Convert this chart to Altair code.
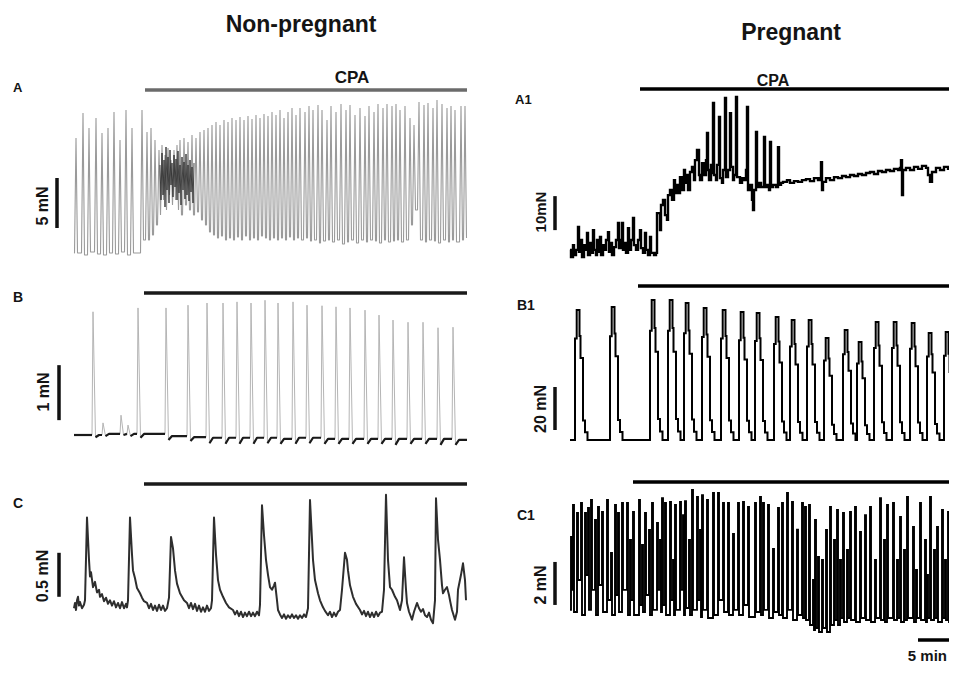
import altair as alt
import pandas as pd

FONT = "Liberation Sans"
W, H = 941, 658
M = 8  # page margin: reference pixel = canvas pixel + 8

# ---------------- data (time in min, force in mN) ----------------
# Panel A (non-pregnant): spike peaks and the trough level reached after each
a_t = [0.2, 0.9, 1.5, 2.2, 2.8, 3.4, 4.0, 4.6, 5.2, 5.8, 6.8,
       7.3, 7.7, 8.1, 8.5, 8.8, 9.1, 9.4, 9.7, 10.0, 10.3,
       10.6, 11.0, 11.4, 11.8, 12.2, 12.6, 13.0, 13.4, 13.8, 14.2,
       14.6, 15.0, 15.4, 15.8, 16.2, 16.6, 17.0, 17.4, 17.8, 18.2,
       18.6, 19.0, 19.4, 19.8, 20.2, 20.6, 21.0, 21.4, 21.8, 22.2,
       22.6, 23.1, 23.5, 23.9, 24.4, 24.8, 25.3, 25.7, 26.2, 26.7,
       27.2, 27.6, 28.1, 28.6, 29.1, 29.5, 30.0, 30.4, 30.9, 31.3,
       31.8, 32.2, 32.6, 33.1, 33.6, 34.0, 34.5, 35.0, 35.4, 35.9,
       36.3, 36.8, 37.3, 37.7, 38.1, 38.7, 39.1]
a_peak = [11.7, 14.2, 12.7, 13.7, 12.2, 12.7, 14.3, 11.5, 14.5, 12.7, 14.5,
          12.3, 12.7, 11.5, 10.5, 11.0, 10.0, 10.7, 9.5, 10.5, 11.0,
          11.5, 11.7, 11.3, 12.0, 11.7, 12.3, 12.5, 12.7, 13.0, 13.3,
          13.0, 13.5, 13.3, 13.7, 13.5, 13.8, 13.5, 13.9, 13.6, 14.0,
          13.7, 14.1, 13.9, 14.3, 14.0, 14.5, 13.7, 14.3, 14.7, 14.0,
          14.7, 14.3, 14.9, 14.5, 15.0, 14.5, 13.5, 14.9, 14.3, 15.1,
          14.5, 15.0, 14.0, 14.7, 13.9, 14.9, 14.3, 15.1, 14.7, 15.1,
          14.9, 15.1, 14.5, 14.9, 13.7, 13.0, 15.3, 15.0, 15.2, 14.7,
          15.5, 15.1, 14.7, 14.9, 14.5, 14.9, 14.9]
a_trough = [0.2, 0.0, 0.3, 0.1, 0.0, 0.2, 0.1, 0.3, 0.0, 0.2, 1.5,
            1.5, 2.0, 3.0, 4.0, 5.5, 4.5, 6.0, 5.0, 5.5, 4.5,
            4.0, 5.0, 4.5, 4.0, 4.3, 3.5, 3.0, 2.3, 2.0, 1.7,
            1.9, 1.5, 1.7, 1.5, 1.8, 1.5, 1.9, 1.5, 1.7, 1.5,
            1.9, 1.7, 1.5, 1.7, 1.5, 1.7, 1.5, 1.8, 1.5, 1.7,
            1.5, 1.7, 1.4, 1.5, 1.2, 1.4, 1.5, 1.3, 1.5, 1.1,
            1.3, 1.5, 1.2, 1.5, 1.3, 1.5, 1.4, 1.2, 1.5, 1.3,
            1.4, 1.5, 1.3, 1.5, 3.0, 4.5, 1.5, 1.3, 1.5, 1.4,
            1.2, 1.5, 1.3, 1.5, 1.3, 1.5, 1.7]
# dense dark burst just after CPA in panel A
a_dense_t = [8.6, 8.7, 8.8, 8.9, 9.0, 9.1, 9.2, 9.3, 9.4, 9.5, 9.6, 9.7,
             9.8, 9.9, 10.0, 10.1, 10.2, 10.3, 10.4, 10.5, 10.6, 10.7, 10.8,
             10.9, 11.0, 11.1, 11.2, 11.3, 11.4, 11.5, 11.6, 11.7, 11.8, 11.9, 12.0]
a_dense_f = [9.0, 5.5, 10.2, 6.0, 9.5, 4.8, 10.8, 6.5, 9.8, 5.2, 10.5, 7.0,
             9.2, 5.8, 10.0, 6.8, 9.6, 5.5, 10.4, 6.2, 9.0, 5.0, 9.8,
             6.5, 9.3, 5.6, 10.1, 6.0, 9.0, 5.4, 9.5, 6.3, 8.8, 5.2, 9.2]

# Panel B: spikes, baseline level before each spike and just after it
b_t = [1.9, 2.9, 4.7, 5.4, 6.4, 9.2, 11.4, 13.3, 14.9, 16.3, 17.7, 19.1, 20.4,
       21.9, 23.3, 24.8, 26.2, 27.6, 29.1, 30.5, 31.9, 33.4, 34.9, 36.4, 37.9]
b_peak = [2.24, 0.22, 0.36, 0.18, 2.31, 2.31, 2.36, 2.40, 2.40, 2.42, 2.40, 2.45, 2.40,
          2.42, 2.36, 2.35, 2.33, 2.31, 2.27, 2.18, 2.09, 2.05, 2.05, 1.95, 1.96]
b_pre = [0.0, 0.0, 0.02, 0.02, 0.02, 0.02, -0.02, -0.04, -0.05, -0.05, -0.05, -0.05, -0.05,
         -0.07, -0.05, -0.05, -0.07, -0.07, -0.07, -0.07, -0.07, -0.07, -0.07, -0.07, -0.07]
b_low = [-0.04, -0.02, 0.0, -0.02, -0.05, -0.09, -0.11, -0.15, -0.16, -0.16, -0.16, -0.15, -0.16,
         -0.16, -0.15, -0.16, -0.16, -0.16, -0.16, -0.16, -0.18, -0.16, -0.16, -0.18, -0.18]
b_end = -0.09

# Panel C: trace vertices
c_t = [0.0, 0.1, 0.2, 0.3, 0.4, 0.5, 0.6, 0.8, 1.0, 1.1,
       1.3, 1.5, 1.6, 1.7, 1.9, 2.1, 2.3, 2.5, 2.6, 2.8,
       3.0, 3.2, 3.4, 3.6, 3.8, 4.0, 4.2, 4.4, 4.6, 4.8,
       5.0, 5.2, 5.3, 5.4, 5.6, 5.8, 5.9, 6.1, 6.3, 6.6,
       6.8, 7.0, 7.3, 7.5, 7.7, 7.9, 8.1, 8.3, 8.5, 8.7,
       8.9, 9.1, 9.3, 9.5, 9.7, 9.9, 10.1, 10.3, 10.6, 10.8,
       11.0, 11.3, 11.5, 11.7, 11.9, 12.1, 12.3, 12.5, 12.7, 12.9,
       13.1, 13.3, 13.5, 13.7, 13.8, 14.0, 14.2, 14.4, 14.6, 14.9,
       15.2, 15.5, 15.9, 16.1, 16.3, 16.5, 16.7, 16.9, 17.1, 17.3,
       17.5, 17.7, 17.9, 18.1, 18.3, 18.5, 18.6, 18.8, 19.0, 19.2,
       19.4, 19.6, 19.8, 20.0, 20.1, 20.3, 20.4, 20.6, 20.8, 21.0,
       21.2, 21.4, 21.6, 21.8, 22.0, 22.2, 22.4, 22.6, 22.8, 23.0,
       23.2, 23.4, 23.6, 23.8, 23.9, 24.1, 24.4, 24.6, 24.9, 25.1,
       25.4, 25.6, 25.8, 26.0, 26.2, 26.4, 26.6, 26.8, 27.1, 27.3,
       27.4, 27.6, 27.9, 28.2, 28.6, 28.8, 29.0, 29.2, 29.4, 29.6,
       29.8, 30.0, 30.2, 30.4, 30.6, 30.8, 31.0, 31.2, 31.4, 31.6,
       31.8, 32.1, 32.3, 32.6, 32.8, 33.0, 33.2, 33.3, 33.5, 33.8,
       34.0, 34.3, 34.5, 34.7, 34.9, 35.1, 35.3, 35.5, 35.7, 35.9,
       36.1, 36.2, 36.4, 36.6, 36.8, 36.9, 37.1, 37.3, 37.5, 37.6,
       37.8, 38.1, 38.3, 38.4, 38.7, 38.9, 39.1, 39.2]
c_f = [0.02, 0.08, 0.00, 0.11, 0.15, 0.05, 0.09, 0.02, 0.06, 0.11,
       1.05, 0.57, 0.38, 0.43, 0.26, 0.32, 0.20, 0.23, 0.15, 0.18,
       0.10, 0.14, 0.07, 0.11, 0.05, 0.10, 0.03, 0.08, 0.02, 0.09,
       0.02, 0.07, 0.03, 0.11, 1.05, 0.63, 0.45, 0.36, 0.25, 0.19,
       0.14, 0.10, 0.08, 0.02, 0.07, 0.00, 0.05, -0.01, 0.06, 0.00,
       0.05, -0.01, 0.02, 0.14, 0.83, 0.70, 0.45, 0.30, 0.19, 0.15,
       0.11, 0.08, 0.02, 0.08, 0.01, 0.07, -0.01, 0.05, -0.02, 0.03,
       -0.02, 0.05, -0.01, 0.02, 0.11, 1.05, 0.63, 0.34, 0.23, 0.15,
       0.08, 0.03, 0.00, -0.05, -0.01, -0.07, -0.02, -0.08, -0.03, -0.07,
       -0.02, -0.07, -0.03, -0.07, -0.02, -0.06, 0.06, 1.19, 0.85, 0.57,
       0.40, 0.26, 0.23, 0.28, 0.31, 0.11, 0.00, -0.05, -0.09, -0.05,
       -0.10, -0.06, -0.09, -0.05, -0.09, -0.06, -0.10, -0.06, -0.09, -0.05,
       -0.08, 0.02, 1.25, 0.80, 0.57, 0.34, 0.19, 0.11, 0.03, -0.01,
       -0.06, -0.02, -0.08, -0.03, -0.07, -0.02, 0.00, 0.23, 0.65, 0.57,
       0.45, 0.28, 0.15, 0.07, 0.00, -0.05, -0.01, -0.07, -0.02, -0.08,
       -0.03, -0.08, -0.02, -0.07, -0.03, -0.02, 0.23, 1.31, 0.57, 0.26,
       0.23, 0.15, 0.11, 0.00, 0.11, 0.60, 0.23, 0.08, -0.02, -0.11,
       -0.02, 0.08, 0.02, -0.02, 0.01, -0.06, -0.08, -0.03, -0.11, -0.15,
       0.11, 1.27, 0.80, 0.57, 0.28, 0.19, 0.23, 0.26, 0.17, 0.11,
       0.00, -0.11, -0.02, 0.23, 0.40, 0.53, 0.34, 0.11]

# Panel A1 (pregnant): stepped trace vertices
a1_t = [0.0, 0.1, 0.3, 0.4, 0.6, 0.8, 0.9, 1.1, 1.2, 1.4, 1.6, 1.7, 1.8, 2.0, 2.1,
        2.3, 2.4, 2.6, 2.7, 2.8, 3.0, 3.1, 3.3, 3.5, 3.6, 3.8, 3.9, 4.1, 4.2, 4.4,
        4.6, 4.8, 4.9, 5.1, 5.2, 5.3, 5.5, 5.6, 5.8, 5.9, 6.1, 6.3, 6.4, 6.6, 6.8,
        7.0, 7.1, 7.3, 7.5, 7.6, 7.8, 8.0, 8.1, 8.4, 8.6,
        8.7, 9.0, 9.1, 9.3, 9.5, 9.7, 9.8, 10.0, 10.2, 10.4, 10.5, 10.7, 10.8, 11.0,
        11.2, 11.4, 11.5, 11.7, 11.8, 12.0, 12.2, 12.4, 12.5, 12.7, 12.9, 13.0, 13.2,
        13.4, 13.6, 13.7, 13.8, 13.9, 14.1, 14.2, 14.3, 14.4, 14.6, 14.7, 14.9, 15.0,
        15.2, 15.3, 15.5, 15.6, 15.8, 16.0, 16.1, 16.3, 16.4, 16.6, 16.7, 17.0, 17.2,
        17.4, 17.6, 17.7, 17.8, 18.0, 18.2, 18.3, 18.4, 18.6, 18.7, 18.9, 19.1, 19.4,
        19.5, 19.7, 19.9, 20.0, 20.1, 20.3, 20.6, 20.8, 20.9, 21.1,
        21.3, 21.7, 22.0, 22.4, 22.8, 23.2, 23.6, 24.0, 24.4, 24.8, 25.0, 25.1, 25.2,
        25.3, 25.6, 26.0, 26.4, 26.8, 27.2, 27.6, 28.0, 28.4, 28.8, 29.2, 29.6, 30.0,
        30.4, 30.8, 31.2, 31.6, 32.0, 32.4, 32.8, 33.0, 33.1, 33.2, 33.3, 33.6, 34.0,
        34.4, 34.8, 35.2, 35.6, 35.8, 36.0, 36.2, 36.6, 37.0, 37.4, 37.8, 38.2, 38.7]
a1_f = [2.4, 0.3, 3.8, 0.9, 2.4, 9.1, 1.8, 5.3, 0.3, 3.8, 2.4, 7.4, 0.9, 4.4, 1.5,
        8.2, 2.4, 0.9, 5.3, 1.8, 6.2, 0.9, 3.8, 2.4, 5.3, 7.6, 1.8, 4.4, 0.9, 3.2,
        5.3, 10.3, 2.9, 5.3, 10.3, 2.4, 4.4, 1.5, 8.8, 2.4, 5.3, 11.8, 3.8, 2.4, 5.3,
        8.2, 2.9, 1.5, 7.4, 2.4, 0.9, 6.2, 1.5, 0.9, 1.5,
        13.2, 8.2, 15.6, 17.1, 12.6, 11.2, 18.5, 20.0, 17.1, 22.9, 19.1, 21.5, 19.1, 23.8,
        20.0, 25.9, 22.1, 24.4, 20.0, 25.3, 26.8, 22.9, 28.8, 31.8, 24.4, 22.9, 27.9,
        24.4, 28.8, 36.8, 25.9, 22.9, 27.4, 25.0, 45.6, 24.4, 22.9, 27.4, 41.5, 23.5,
        22.1, 25.9, 47.1, 23.8, 25.9, 42.6, 26.8, 22.9, 24.4, 47.4, 23.8, 22.1, 23.5,
        22.9, 25.9, 44.4, 20.0, 21.5, 17.1, 14.1, 20.0, 37.1, 20.9, 22.1, 20.9, 35.6,
        20.9, 21.5, 20.0, 34.1, 20.9, 21.5, 20.9, 32.6, 21.5, 22.1,
        22.4, 22.9, 22.1, 22.6, 22.4, 22.9, 23.2, 22.6, 23.5, 22.9, 23.5, 28.2, 20.0,
        22.4, 23.5, 22.9, 23.8, 23.5, 24.1, 23.8, 24.4, 24.1, 24.7, 24.4, 25.0, 25.3,
        24.7, 25.6, 25.3, 25.9, 25.6, 26.2, 25.9, 26.5, 28.8, 18.5, 25.9, 26.5, 25.9,
        26.8, 26.2, 27.1, 26.5, 24.4, 22.4, 25.3, 26.5, 25.9, 26.8, 26.2, 27.1, 26.5]

# Panel B1: onset time and peak force of each phasic contraction
b1_t = [0.5, 4.0, 8.0, 9.8, 11.4, 13.2, 15.1, 16.9, 18.5, 20.4,
        22.0, 23.7, 25.4, 27.3, 28.7, 30.4, 32.2, 34.0, 35.7, 37.4]
b1_peak = [60.5, 61.9, 65.1, 65.1, 63.7, 61.4, 60.5, 59.5, 59.1, 57.2,
           55.8, 55.8, 47.4, 51.2, 45.6, 54.9, 54.9, 54.4, 49.8, 50.2]
# contraction waveform (min after onset, fraction of peak)
b1_shape_dt = [0.0, 0.17, 0.45, 0.55, 0.8, 1.0, 1.25]
b1_shape_fr = [0.78, 1.0, 0.8, 0.63, 0.15, 0.06, 0.0]

# Panel C1: spike times, peaks and trough after each
c1_t = [0.1, 0.3, 0.7, 1.1, 1.5, 1.8, 2.1, 2.5, 2.8, 3.2,
        3.7, 4.1, 4.5, 4.8, 5.2, 5.7, 6.0, 6.3, 6.9, 7.2,
        7.5, 7.9, 8.2, 8.7, 9.0, 9.2, 9.5, 10.0, 10.3, 10.5,
        11.0, 11.3, 11.5, 11.9, 12.2, 12.7, 13.0, 13.2, 13.7,
        14.3, 14.8, 15.3, 15.8, 16.3, 16.8, 17.3, 17.8, 18.5, 19.0,
        19.3, 19.8, 20.3, 20.8, 21.2, 21.7, 22.2, 22.7, 23.2, 23.5, 23.9,
        24.3, 24.5, 24.8, 25.2, 25.6, 26.0, 26.4, 26.7,
        27.0, 27.3, 27.7, 28.0, 28.5, 29.0, 29.5, 30.0, 30.5, 31.0,
        31.4, 31.7, 32.3, 32.7, 33.0, 33.4, 33.7, 34.3, 34.6, 35.0,
        35.5, 35.7, 36.0, 36.4, 36.7, 37.2, 37.5, 37.8, 38.2, 38.5]
c1_peak = [3.86, 5.35, 4.98, 5.44, 4.98, 5.21, 5.58, 4.65, 5.26, 5.02,
           5.58, 3.12, 5.35, 4.98, 5.44, 5.44, 3.72, 5.02, 5.58, 3.49,
           4.98, 4.19, 5.44, 4.51, 3.72, 5.67, 5.44, 5.49, 2.79, 5.35,
           5.49, 4.88, 5.53, 3.72, 6.05, 5.72, 4.19, 5.81, 5.58,
           5.91, 5.91, 5.44, 5.44, 4.00, 5.44, 5.49, 5.26, 5.44, 5.72,
           5.44, 5.35, 3.30, 5.21, 5.44, 5.91, 5.49, 4.20, 5.44, 5.26, 5.35,
           1.86, 4.65, 2.93, 2.79, 4.19, 5.26, 3.72, 5.12,
           2.79, 4.98, 3.26, 5.02, 5.26, 4.09, 4.88, 5.26, 2.79, 5.67,
           3.72, 5.35, 5.44, 2.79, 4.79, 3.26, 5.72, 4.33, 2.33, 5.44,
           3.72, 2.09, 5.72, 3.26, 4.33, 5.12, 2.79, 5.02, 3.26, 5.44]
c1_trough = [1.40, 0.37, 1.86, 0.23, 2.09, 0.47, 1.40, 0.23, 1.63, 0.37,
             0.93, 0.23, 1.16, 0.37, 1.40, 0.23, 0.93, 0.23, 0.70, 0.37,
             1.16, 0.23, 0.47, 1.40, 0.37, 0.70, 0.23, 0.93, 0.23, 0.47,
             1.40, 0.23, 0.56, 0.23, 0.47, 0.93, 0.14, 0.47, 0.09,
             0.23, 0.93, 0.37, 0.23, 0.47, 0.23, 0.70, 0.14, 0.37, 0.23,
             0.47, 0.09, 0.37, 0.23, 0.09, 0.47, 0.00, 0.23, 0.09, 0.00, -0.23,
             -0.47, -0.37, -0.56, -0.37, -0.56, -0.23, 0.00, -0.23,
             0.09, -0.09, 0.09, 0.00, -0.09, 0.09, 0.00, -0.09, 0.09, 0.00,
             -0.09, 0.09, 0.00, 0.09, -0.09, 0.00, 0.09, -0.09, 0.09, 0.00,
             -0.09, 0.09, 0.00, 0.09, -0.09, 0.09, 0.00, -0.09, 0.09, 0.00]

# CPA application (min) and scale bars (mN)
cpa_start = {"A": 7.1, "B": 7.0, "C": 7.0, "A1": 7.0, "B1": 6.8, "C1": 6.3}
cpa_end = {"A": 39.3, "B": 39.3, "C": 39.3, "A1": 40.0, "B1": 40.0, "C1": 40.0}
bar_len = {"A": 5, "B": 1, "C": 0.5, "A1": 10, "B1": 20, "C1": 2}
bar_from = {"A": 2.7, "B": 0.27, "C": 0.15, "A1": 8.2, "B1": 4.65, "C1": 0.7}
time_bar_start, time_bar_len = 34.8, 5

# ---------------- build tables ----------------
def frame(rows):
    return pd.DataFrame({"i": range(len(rows)), "t": [r[0] for r in rows], "f": [r[1] for r in rows]})

A_W = 0.15
rows, prev = [(0.0, 0.2)], 0.2
for t, p, tr in zip(a_t, a_peak, a_trough):
    rows += [(t - A_W, prev), (t, p), (t + A_W, tr)]
    prev = tr
df_a = frame(rows)
df_a_dense = frame(list(zip(a_dense_t, a_dense_f)))

rows = [(0.0, b_pre[0])]
base_rows, seg = [], 0
base_rows.append((seg, 0.0, b_pre[0]))
for k, (t, p, pre, low) in enumerate(zip(b_t, b_peak, b_pre, b_low)):
    nxt = b_pre[k + 1] if k + 1 < len(b_t) else b_end
    nxt_t = b_t[k + 1] - 0.1 if k + 1 < len(b_t) else 39.3
    rows += [(t - 0.1, pre), (t, p), (t + 0.25, low), (t + 0.6, nxt)]
    base_rows.append((seg, t - 0.1, pre))
    seg += 1
    base_rows += [(seg, t + 0.25, low), (seg, t + 0.6, nxt), (seg, nxt_t, nxt)]
rows.append((39.3, b_end))
df_b = frame(rows)
df_b_base = pd.DataFrame({"i": range(len(base_rows)), "seg": [r[0] for r in base_rows],
                          "t": [r[1] for r in base_rows], "f": [r[2] for r in base_rows]})

df_c = frame(list(zip(c_t, c_f)))
df_a1 = frame(list(zip(a1_t, a1_f)))

rows = [(0.0, 0.0)]
for t0, pk in zip(b1_t, b1_peak):
    for dt, fr in zip(b1_shape_dt, b1_shape_fr):
        rows.append((t0 + dt, pk * fr))
rows.append((40.0, 0.0))
df_b1 = frame(rows)

rows = [(0.0, 0.47)]
for t, p, tr in zip(c1_t, c1_peak, c1_trough):
    rows += [(t, p), (t + 0.1, tr)]
rows.append((40.0, 0.0))
df_c1 = frame(rows)

# ---------------- chart helpers ----------------
def sc(dom, r):
    return alt.Scale(domain=list(dom), range=[r[0] - M, r[1] - M], nice=False, zero=False)

LX = (74, 474)
RX = (570, 970)

def line(df, sx, sy, color, width, interp="linear", detail=None, join="bevel", opacity=1.0):
    enc = dict(x=alt.X("t:Q", scale=sx, axis=None),
               y=alt.Y("f:Q", scale=sy, axis=None),
               order=alt.Order("i:Q"))
    if detail:
        enc["detail"] = alt.Detail(detail + ":N")
    return alt.Chart(df).mark_line(color=color, strokeWidth=width, interpolate=interp,
                                   strokeJoin=join, opacity=opacity).encode(**enc)

def cpa_bar(key, sx, ypx, color):
    d = pd.DataFrame({"t0": [cpa_start[key]], "t1": [cpa_end[key]]})
    return alt.Chart(d).mark_rule(color=color, strokeWidth=3.5).encode(
        x=alt.X("t0:Q", scale=sx, axis=None), x2="t1", y=alt.value(ypx - M))

def scale_bar(key, sy, xpx):
    d = pd.DataFrame({"f0": [bar_from[key]], "f1": [bar_from[key] + bar_len[key]]})
    return alt.Chart(d).mark_rule(color="#111111", strokeWidth=3.5).encode(
        y=alt.Y("f0:Q", scale=sy, axis=None), y2="f1", x=alt.value(xpx - M))

one = pd.DataFrame({"d": [0]})

def label(text, x, y, size, align="left", baseline="alphabetic", angle=0, color="#141414"):
    kw = dict(text=text, font=FONT, fontSize=size, fontWeight="bold", align=align,
              baseline=baseline, color=color)
    if angle:
        kw["angle"] = angle
    return alt.Chart(one).mark_text(**kw).encode(x=alt.value(x - M), y=alt.value(y - M))

# ---------------- panels ----------------
sxA, syA = sc((0, 40), LX), sc((0, 20), (255, 55))
panelA = alt.layer(
    line(df_a, sxA, syA, "#9a9a9a", 1.1),
    line(df_a_dense, sxA, syA, "#2b2b2b", 1.0, opacity=0.85),
    cpa_bar("A", sxA, 90, "#6b6b6b"),
    scale_bar("A", syA, 57),
)

sxB, syB = sc((0, 40), LX), sc((0, 3), (435, 270))
panelB = alt.layer(
    line(df_b, sxB, syB, "#b5b5b5", 1.0),
    line(df_b_base, sxB, syB, "#1a1a1a", 2.2, detail="seg", join="round"),
    cpa_bar("B", sxB, 293, "#1a1a1a"),
    scale_bar("B", syB, 59),
)

sxC, syC = sc((0, 40), LX), sc((0, 1.5), (610, 478))
panelC = alt.layer(
    line(df_c, sxC, syC, "#2e2e2e", 2.0, join="round"),
    cpa_bar("C", sxC, 484, "#1a1a1a"),
    scale_bar("C", syC, 59),
)

sxA1, syA1 = sc((0, 40), RX), sc((0, 50), (258, 88))
panelA1 = alt.layer(
    line(df_a1, sxA1, syA1, "#000000", 2.4, interp="step-after", join="miter"),
    cpa_bar("A1", sxA1, 89, "#000000"),
    scale_bar("A1", syA1, 555),
)

sxB1, syB1 = sc((0, 40), RX), sc((0, 70), (440, 289.5))
panelB1 = alt.layer(
    line(df_b1, sxB1, syB1, "#000000", 2.0, interp="step-after", join="miter"),
    cpa_bar("B1", sxB1, 286, "#000000"),
    scale_bar("B1", syB1, 555),
)

sxC1, syC1 = sc((0, 40), RX), sc((0, 6), (620, 491))
tb = pd.DataFrame({"t0": [time_bar_start], "t1": [time_bar_start + time_bar_len]})
panelC1 = alt.layer(
    line(df_c1, sxC1, syC1, "#000000", 1.9, interp="step-after", join="miter"),
    cpa_bar("C1", sxC1, 482, "#000000"),
    scale_bar("C1", syC1, 555),
    alt.Chart(tb).mark_rule(color="#000000", strokeWidth=3.5).encode(
        x=alt.X("t0:Q", scale=sxC1, axis=None), x2="t1", y=alt.value(640 - M)),
)

texts = [
    label("Non-pregnant", 301, 32, 23, align="center"),
    label("Pregnant", 791, 40, 23, align="center"),
    label("A", 13, 92, 13),
    label("B", 13, 302, 14),
    label("C", 13, 508, 14),
    label("A1", 515, 104, 13),
    label("B1", 517, 310, 14),
    label("C1", 517, 520, 14),
    label("CPA", 352, 83, 17, align="center"),
    label("CPA", 773, 86, 16, align="center"),
    label("5 mN", 43, 206, 16, align="center", baseline="middle", angle=270),
    label("1 mN", 44, 392, 16, align="center", baseline="middle", angle=270),
    label("0.5 mN", 43, 576, 16, align="center", baseline="middle", angle=270),
    label("10mN", 541, 212, 15, align="center", baseline="middle", angle=270),
    label("20 mN", 541, 409, 16, align="center", baseline="middle", angle=270),
    label("2 mN", 541, 585, 16, align="center", baseline="middle", angle=270),
    label("5 min", 947, 661, 15, align="right"),
]

chart = alt.layer(panelA, panelB, panelC, panelA1, panelB1, panelC1, *texts).resolve_scale(
    x="independent", y="independent"
).properties(
    width=W, height=H, padding=0, autosize=alt.AutoSizeParams(type="none"),
    background="white",
).configure_view(stroke=None)

chart.save("out.html", embed_options={"renderer": "svg", "actions": False})
